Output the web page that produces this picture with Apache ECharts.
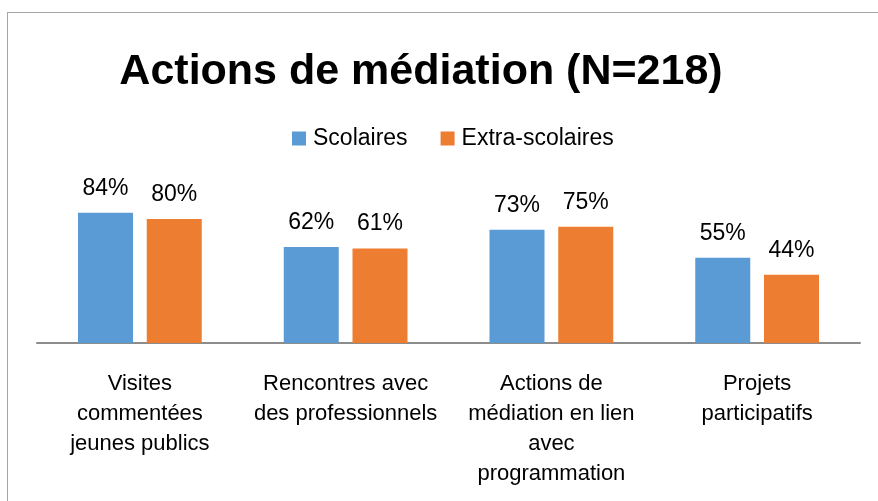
<!DOCTYPE html>
<html>
<head>
<meta charset="utf-8">
<script src="https://cdn.jsdelivr.net/npm/echarts@6/dist/echarts.min.js"></script>
<style>
html,body{margin:0;padding:0;background:#fff;}
#frame{position:absolute;left:7px;top:12px;width:900px;height:520px;border:1px solid #a6a6a6;box-sizing:border-box;}
#chart{position:absolute;left:0;top:0;width:878px;height:501px;}
</style>
</head>
<body>
<div id="frame"></div>
<div id="chart"></div>
<script>
const categories = ['Visites\ncommentées\njeunes publics', 'Rencontres avec\ndes professionnels', 'Actions de\nmédiation en lien\navec\nprogrammation', 'Projets\nparticipatifs'];
const scolaires = [84, 62, 73, 55];
const extraScolaires = [80, 61, 75, 44];
const titleText = 'Actions de médiation (N=218)';
const FONT = '"Liberation Sans", Arial, sans-serif';

const chart = echarts.init(document.getElementById('chart'), null, {renderer: 'canvas'});
const labelStyle = {show: true, position: 'top', distance: 13, formatter: '{c}%', fontFamily: FONT, fontSize: 23, color: '#000'};
chart.setOption({
  backgroundColor: 'transparent',
  animation: false,
  title: {text: titleText, left: 416, textAlign: 'center', top: 46, textStyle: {fontFamily: FONT, fontSize: 43, fontWeight: 'bold', color: '#000'}},
  legend: {top: 122, left: 287, itemWidth: 14, itemHeight: 14, itemGap: 33, icon: 'rect',
    textStyle: {fontFamily: FONT, fontSize: 23, color: '#000', padding: [0, 0, 0, 2]}},
  grid: {left: 37, right: 18, top: 188, bottom: 158, containLabel: false},
  xAxis: {type: 'category', data: categories,
    axisLine: {lineStyle: {color: '#8c8c8c', width: 2}}, axisTick: {show: false},
    axisLabel: {fontFamily: FONT, fontSize: 22, color: '#000', lineHeight: 30, margin: 26, interval: 0}},
  yAxis: {type: 'value', min: 0, max: 100, show: false, splitLine: {show: false}},
  series: [
    {name: 'Scolaires', type: 'bar', data: scolaires, barWidth: 55, barGap: '25%', itemStyle: {color: '#5B9BD5'}, label: labelStyle},
    {name: 'Extra-scolaires', type: 'bar', data: extraScolaires, barWidth: 55, itemStyle: {color: '#ED7D31'}, label: labelStyle}
  ]
});
</script>
</body>
</html>
